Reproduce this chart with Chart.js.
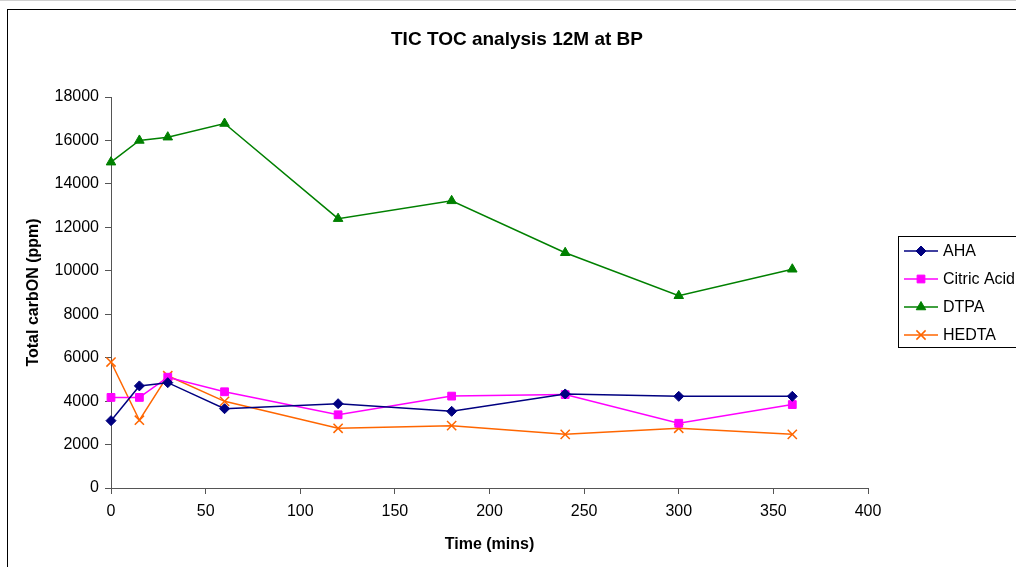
<!DOCTYPE html>
<html>
<head>
<meta charset="utf-8">
<script src="https://cdn.jsdelivr.net/npm/chart.js@4.4.1/dist/chart.umd.min.js"></script>
<style>
  html, body { margin: 0; padding: 0; background: #fff; }
  #wrap { width: 1016px; height: 567px; position: relative; }
</style>
</head>
<body>
<div id="wrap"><canvas id="chart" width="1016" height="567"></canvas></div>
<script>
// --- Data ---
const times = [0, 15, 30, 60, 120, 180, 240, 300, 360];
const ahaValues = [3100, 4700, 4850, 3650, 3880, 3530, 4330, 4220, 4220];
const citricValues = [4170, 4170, 5100, 4430, 3370, 4230, 4300, 2980, 3840];
const dtpaValues = [15000, 16000, 16150, 16780, 12400, 13220, 10830, 8850, 10070];
const hedtaValues = [5800, 3120, 5170, 3990, 2750, 2870, 2470, 2750, 2470];
const xTicks = [0, 50, 100, 150, 200, 250, 300, 350, 400];
const yTicks = [0, 2000, 4000, 6000, 8000, 10000, 12000, 14000, 16000, 18000];

const FONT = 'Arial, "Liberation Sans", sans-serif';
const AXIS_GREY = '#555555';

const toPoints = (vals) => vals.map((v, i) => ({ x: times[i], y: v }));

function series(label, vals, color, style, radius) {
    return {
        label: label,
        data: toPoints(vals),
        borderColor: color,
        backgroundColor: color,
        borderWidth: 1.5,
        pointStyle: style,
        pointRadius: radius,
        pointBorderWidth: style === 'crossRot' ? 1.5 : 1,
        pointBackgroundColor: color,
        pointBorderColor: color,
        tension: 0,
        clip: false
    };
}

// Frame, title and the boxed legend on the right
const decor = {
    id: 'decor',
    beforeDraw(chart) {
        const ctx = chart.ctx;
        ctx.save();
        ctx.fillStyle = '#fff';
        ctx.fillRect(0, 0, chart.width, chart.height);
        ctx.strokeStyle = '#d0d0d0';
        ctx.beginPath(); ctx.moveTo(0, 0.5); ctx.lineTo(chart.width, 0.5); ctx.stroke();
        ctx.strokeStyle = '#000';
        ctx.lineWidth = 1;
        ctx.strokeRect(7.5, 9.5, 1200, 800);
        ctx.restore();
    },
    afterDraw(chart) {
        const ctx = chart.ctx;
        ctx.save();
        ctx.fillStyle = '#000';
        ctx.font = 'bold 19px ' + FONT;
        ctx.textAlign = 'center';
        ctx.textBaseline = 'middle';
        ctx.fillText('TIC TOC analysis 12M at BP', 517, 40);

        // legend box
        ctx.strokeStyle = '#000';
        ctx.lineWidth = 1;
        ctx.strokeRect(898.5, 236.5, 300, 111);
        ctx.font = '16px ' + FONT;
        ctx.textAlign = 'left';
        chart.data.datasets.forEach((ds, i) => {
            const y = 251 + i * 28;
            ctx.strokeStyle = ds.borderColor;
            ctx.lineWidth = 1.5;
            ctx.beginPath(); ctx.moveTo(904, y); ctx.lineTo(938, y); ctx.stroke();
            ctx.fillStyle = ds.pointBackgroundColor;
            ctx.strokeStyle = ds.pointBorderColor;
            ctx.lineWidth = ds.pointBorderWidth;
            Chart.helpers.drawPoint(ctx, { pointStyle: ds.pointStyle, radius: ds.pointRadius, rotation: 0, borderWidth: ds.pointBorderWidth }, 921, y);
            ctx.fillStyle = '#000';
            ctx.fillText(ds.label, 943, y + 1);
        });
        ctx.restore();
    }
};

new Chart(document.getElementById('chart'), {
    type: 'line',
    data: {
        datasets: [
            series('AHA', ahaValues, '#000080', 'rectRot', 5),
            series('Citric Acid', citricValues, '#FF00FF', 'rect', 5.5),
            series('DTPA', dtpaValues, '#008000', 'triangle', 5.5),
            series('HEDTA', hedtaValues, '#FF6600', 'crossRot', 6.5)
        ]
    },
    options: {
        responsive: false,
        animation: false,
        layout: { padding: { left: 0, top: 97, right: 148, bottom: 0 } },
        plugins: {
            legend: { display: false },
            title: { display: false },
            tooltip: { enabled: false }
        },
        scales: {
            x: {
                type: 'linear',
                min: 0,
                max: 400,
                afterBuildTicks: (scale) => { scale.ticks = xTicks.map(v => ({ value: v })); },
                afterFit: (scale) => { scale.height = 567 - 488; },
                grid: { drawOnChartArea: false, drawTicks: true, tickLength: 6, color: AXIS_GREY },
                border: { display: true, color: AXIS_GREY, width: 1 },
                ticks: { color: '#000', font: { family: FONT, size: 16 }, padding: 8, maxRotation: 0, callback: (v) => String(v) },
                title: { display: true, text: 'Time (mins)', color: '#000', font: { family: FONT, size: 16, weight: 'bold' }, padding: { top: 0, bottom: 13 } }
            },
            y: {
                min: 0,
                max: 18000,
                afterBuildTicks: (scale) => { scale.ticks = yTicks.map(v => ({ value: v })); },
                afterFit: (scale) => { scale.width = 111; },
                grid: { drawOnChartArea: false, drawTicks: true, tickLength: 6, color: AXIS_GREY },
                border: { display: true, color: AXIS_GREY, width: 1 },
                ticks: { color: '#000', font: { family: FONT, size: 16 }, padding: 6, callback: (v) => String(v) },
                title: { display: true, text: 'Total carbON (ppm)', color: '#000', font: { family: FONT, size: 16, weight: 'bold' }, padding: { top: 24, bottom: 0 } }
            }
        }
    },
    plugins: [decor]
});
</script>
</body>
</html>
